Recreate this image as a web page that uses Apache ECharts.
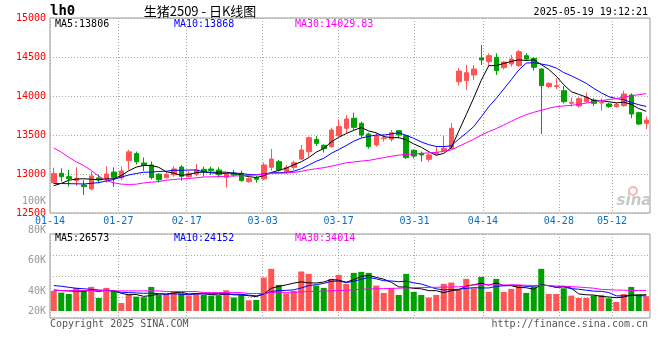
<!DOCTYPE html>
<html><head><meta charset="utf-8">
<script src="https://cdn.jsdelivr.net/npm/echarts@6/dist/echarts.min.js"></script>
<style>html,body{margin:0;padding:0;background:#fff}#c{width:660px;height:360px}</style>
</head><body><div id="c"></div>
<script>
const dates = ['01-14','01-15','01-16','01-17','01-20','01-21','01-22','01-23','01-24','01-27',
'02-05','02-06','02-07','02-10','02-11','02-12','02-13','02-14','02-17','02-18','02-19','02-20','02-21','02-24','02-25','02-26','02-27','02-28',
'03-03','03-04','03-05','03-06','03-07','03-10','03-11','03-12','03-13','03-14','03-17','03-18','03-19','03-20','03-21','03-24','03-25','03-26','03-27','03-28','03-31',
'04-01','04-02','04-03','04-07','04-08','04-09','04-10','04-11','04-14','04-15','04-16','04-17','04-18','04-21','04-22','04-23','04-24','04-25','04-28','04-29','04-30',
'05-06','05-07','05-08','05-09','05-12','05-13','05-14','05-15','05-16','05-19'];
const xTickLabels = ['01-14','01-27','02-17','03-03','03-17','03-31','04-14','04-28','05-12'];

const opens  = [12889,13009,12966,12915,12859,12808,12950,12925,13025,12950,
13171,13262,13142,13115,12998,12953,12990,13090,12966,12998,
13060,13064,13051,12957,13009,13009,12902,12953,12936,13086,
13158,13030,13086,13192,13286,13444,13368,13350,13491,13586,
13714,13650,13513,13372,13453,13445,13556,13492,13305,13265,
13188,13257,13300,13329,14184,14197,14269,14487,14440,14496,
14363,14410,14389,14517,14483,14346,14120,14120,14068,13906,
13872,13927,13949,13910,13898,13864,13876,14013,13786,13650];
const closes = [13008,12966,12940,12945,12838,12975,12925,13000,12958,13040,
13284,13156,13112,12955,12925,12996,13065,12970,13009,13052,
13030,13043,12990,13000,12987,12915,12940,12932,13116,13192,
13051,13086,13145,13308,13466,13393,13325,13564,13607,13705,
13598,13500,13351,13487,13462,13530,13500,13210,13230,13244,
13244,13274,13329,13586,14320,14299,14346,14462,14517,14325,
14436,14474,14568,14474,14368,14133,14162,14133,13927,13919,
13966,13983,13906,13915,13864,13893,14026,13769,13641,13692];
const lows   = [12872,12902,12840,12846,12731,12790,12880,12890,12835,12920,
13055,13122,13040,12930,12890,12945,12965,12915,12955,12970,
12966,12987,12957,12830,12966,12902,12889,12889,12923,13043,
13030,13000,13051,13180,13222,13359,13274,13338,13479,13522,
13564,13466,13325,13351,13415,13415,13457,13193,13200,13158,
13158,13244,13287,13316,14133,14077,14205,14398,14389,14270,
14342,14376,14376,14453,14325,13513,14098,14090,13906,13864,
13850,13915,13872,13812,13850,13850,13864,13714,13628,13573];
const highs  = [13081,13073,13051,13086,12923,13030,12990,13095,13085,13095,
13312,13288,13212,13160,13010,13030,13100,13115,13040,13130,
13094,13094,13086,13010,13051,13043,12957,12974,13145,13320,
13180,13116,13171,13372,13479,13487,13380,13594,13700,13757,
13786,13671,13530,13521,13513,13564,13564,13500,13317,13286,
13265,13350,13492,13650,14360,14398,14398,14654,14547,14547,
14449,14526,14590,14547,14496,14355,14175,14226,14128,13979,
13983,14043,13970,13970,13915,13915,14068,14034,13799,13735];

const ma5  = [12850,12880,12920,12935,12939,12933,12925,12937,12939,12980,
13041,13088,13110,13109,13086,13029,13011,12982,12993,13018,
13025,13021,13025,13023,13010,12987,12966,12955,12978,13019,
13046,13075,13118,13156,13211,13280,13327,13411,13471,13519,
13560,13595,13552,13528,13480,13466,13466,13438,13386,13343,
13286,13240,13264,13335,13550,13761,13976,14202,14389,14390,
14417,14443,14464,14455,14464,14403,14341,14254,14145,14055,
14021,13986,13940,13938,13927,13912,13921,13893,13839,13804];
const ma10 = [12878,12878,12876,12874,12872,12880,12890,12910,12930,12960,
12987,13006,13023,13024,13033,13035,13049,13046,13051,13052,
13027,13016,13004,13008,13014,13006,12994,12990,13001,13015,
13017,13021,13036,13067,13115,13163,13201,13265,13314,13365,
13420,13461,13482,13500,13499,13513,13530,13495,13457,13411,
13376,13353,13351,13361,13447,13524,13608,13733,13862,13970,
14089,14209,14333,14422,14427,14410,14392,14359,14300,14259,
14212,14163,14097,14041,13991,13967,13953,13917,13888,13866];
const ma30 = [13335,13280,13215,13155,13108,13045,12972,12916,12887,12870,
12866,12869,12886,12895,12903,12921,12929,12938,12942,12951,
12961,12964,12966,12971,12974,12978,12982,12988,12995,13009,
13010,13014,13021,13033,13054,13068,13081,13100,13122,13144,
13154,13166,13174,13192,13210,13227,13242,13250,13257,13264,
13271,13278,13290,13309,13354,13400,13447,13498,13544,13582,
13628,13675,13722,13761,13791,13816,13844,13863,13873,13880,
13893,13909,13927,13941,13955,13967,13984,14003,14017,14030];

// volume, thousands of lots
const volume = [33.9,31.1,28.8,39.0,34.5,40.7,22.0,39.0,34.5,13.5,
28.2,24.3,23.2,40.7,27.1,28.2,32.8,29.9,26.0,29.9,
27.1,26.0,26.0,35.0,22.6,27.1,18.1,18.6,56.5,71.2,
44.1,29.9,33.9,66.7,62.7,42.9,39.0,54.2,61.0,45.8,
64.4,66.1,64.4,42.9,30.5,38.4,27.1,62.7,32.2,27.1,
22.6,27.1,45.8,48.0,35.6,54.2,38.4,57.6,32.2,54.2,
32.2,37.3,42.4,30.5,41.2,71.2,28.8,28.8,38.4,26.0,
22.0,22.0,26.0,27.1,21.5,15.3,28.8,40.7,28.2,25.0];
const volMa5 = [35.5,34.5,33.8,33.2,33.5,34.8,33.0,35.0,34.1,29.9,
27.4,27.9,24.7,26.0,28.7,28.7,30.4,31.7,28.8,29.4,
29.1,27.8,27.0,28.8,27.3,27.3,25.8,24.3,28.6,38.3,
41.7,44.1,47.1,49.2,47.5,47.2,49.0,53.1,52.0,48.6,
52.9,58.3,60.3,56.7,53.7,48.5,40.7,40.3,38.2,37.5,
34.3,34.3,31.0,34.1,35.8,42.1,44.4,46.8,43.6,47.3,
42.9,42.7,39.7,39.3,36.7,44.5,42.8,40.1,41.7,38.6,
28.8,27.4,26.9,24.6,23.7,22.4,23.7,26.7,26.9,27.6];
const volMa10 = [42.9,41.8,40.0,38.4,37.5,36.5,35.5,34.5,33.5,31.7,
31.1,30.5,29.9,30.1,29.3,28.1,29.2,28.2,27.4,29.0,
28.9,29.1,29.4,28.8,28.4,28.2,26.8,25.6,28.7,32.8,
34.5,34.9,35.7,38.9,42.9,44.5,46.6,50.1,50.6,48.0,
50.1,53.7,56.7,54.3,51.1,50.7,49.5,50.3,47.5,45.6,
41.4,37.5,35.6,36.2,36.7,38.2,39.4,38.9,38.9,41.6,
42.5,43.6,43.2,41.5,42.0,43.7,42.8,39.9,40.5,37.7,
36.7,35.1,33.5,33.2,31.2,25.6,25.6,26.8,25.8,25.7];
const volMa30 = [34.5,34.5,34.5,34.5,34.5,34.5,34.5,34.5,34.0,34.0,
34.0,34.0,34.0,34.0,34.0,32.8,32.8,32.8,32.8,32.8,
31.1,31.1,31.1,31.1,31.1,31.1,29.5,29.5,29.5,31.2,
31.5,31.5,31.7,32.3,32.8,33.0,33.5,34.2,34.5,35.0,
35.8,36.5,37.2,37.5,37.8,38.2,38.5,39.0,39.3,39.5,
39.8,40.0,40.3,40.6,41.0,41.8,44.0,44.8,44.5,44.2,
44.0,44.0,44.0,43.5,43.0,43.5,42.8,42.2,41.8,41.2,
40.4,39.5,38.5,36.5,36.0,35.3,35.2,34.8,34.6,34.8];

const volTickLabels = ['80K','60K','40K','20K'];
const priceLegend = ['MA5:13806','MA10:13868','MA30:14029.83'];
const volLegend = ['MA5:26573','MA10:24152','MA30:34014'];

const UP = '#ff5555', DOWN = '#00a000';
const MONO = '"DejaVu Sans Mono", monospace';
const GRIDC = '#aaaaaa';
const dotted = {color: GRIDC, type: [1, 2], width: 1};

const candleData = dates.map((d, i) => [opens[i], closes[i], lows[i], highs[i]]);
const showTick = (idx, val) => xTickLabels.indexOf(val) >= 0;

function txt(text, x, y, fill, align, font) {
  return {type: 'text', silent: true, z: 100,
    style: {text, x, y, fill, font: font || ('10px ' + MONO),
      textAlign: align || 'left', textVerticalAlign: 'middle', align: align || 'left', verticalAlign: 'middle'}};
}
const legendX = [55, 174, 295];
const legendC = ['#000000', '#0000ff', '#ff00ff'];
const volLabelY = [230, 260, 291, 311];

const graphics = [
  txt('lh0', 50, 11, '#000', 'left', 'bold 14px ' + MONO),
  txt('生猪2509 - 日K线图', 200, 11, '#000', 'center', '13px "Noto Sans CJK SC"'),
  txt('2025-05-19 19:12:21', 648, 12, '#000', 'right'),
  txt('100K', 46, 201, '#999', 'right'),
  txt('Copyright 2025 SINA.COM', 50, 324, '#555', 'left'),
  txt('http://finance.sina.com.cn', 648, 324, '#555', 'right'),
  txt('sina', 634, 201, '#c8c8c8', 'center', 'italic bold 15px "DejaVu Sans"'),
  {type: 'circle', silent: true, z: 99, shape: {cx: 633, cy: 191, r: 4}, style: {fill: 'none', stroke: '#f2b8b8', lineWidth: 2}}
];
priceLegend.forEach((t, k) => graphics.push(txt(t, legendX[k], 24, legendC[k])));
volLegend.forEach((t, k) => graphics.push(txt(t, legendX[k], 238, legendC[k])));
volTickLabels.forEach((t, k) => graphics.push(txt(t, 46, volLabelY[k], '#999', 'right')));

const hiddenCat = (gi) => ({type: 'category', gridIndex: gi, data: dates, boundaryGap: true, show: false});
const tickCat = (gi, labels) => ({type: 'category', gridIndex: gi, position: 'bottom', data: dates, boundaryGap: false,
  axisLine: {show: false}, axisTick: {show: false},
  axisLabel: {show: labels, interval: showTick, color: '#0a6fc2', fontFamily: MONO, fontSize: 10, margin: 3},
  splitLine: {show: true, interval: showTick, lineStyle: dotted}});

const option = {
  animation: false,
  backgroundColor: '#fff',
  grid: [
    {left: 50, right: 10, top: 18, height: 195, show: true, borderColor: '#999', borderWidth: 1, backgroundColor: 'transparent'},
    {left: 50, right: 10, top: 234, height: 77},
    {left: 50, right: 10, top: 234, height: 84, show: true, borderColor: '#999', borderWidth: 1, backgroundColor: 'transparent'}
  ],
  xAxis: [hiddenCat(0), tickCat(0, true), hiddenCat(1), tickCat(2, false)],
  yAxis: [
    {type: 'value', gridIndex: 0, min: 12500, max: 15000, interval: 500,
     axisLine: {show: false}, axisTick: {show: false},
     axisLabel: {color: '#ff0000', fontFamily: MONO, fontSize: 10, margin: 4, formatter: (v) => String(v)},
     splitLine: {show: true, lineStyle: dotted}},
    {type: 'value', gridIndex: 1, min: 0, max: 130, show: false, splitLine: {show: false}},
    {type: 'value', gridIndex: 2, min: 0, max: 4, interval: 1,
     axisLine: {show: false}, axisTick: {show: false}, axisLabel: {show: false},
     splitLine: {show: true, lineStyle: dotted}}
  ],
  graphic: graphics,
  series: [
    {type: 'candlestick', xAxisIndex: 0, yAxisIndex: 0, data: candleData, barWidth: 5,
     itemStyle: {color: UP, color0: DOWN, borderColor: UP, borderColor0: DOWN, borderWidth: 1}},
    {type: 'line', xAxisIndex: 0, yAxisIndex: 0, data: ma5, showSymbol: false, lineStyle: {color: '#000', width: 1}},
    {type: 'line', xAxisIndex: 0, yAxisIndex: 0, data: ma10, showSymbol: false, lineStyle: {color: '#0000ff', width: 1}},
    {type: 'line', xAxisIndex: 0, yAxisIndex: 0, data: ma30, showSymbol: false, lineStyle: {color: '#ff00ff', width: 1}},
    {type: 'bar', xAxisIndex: 2, yAxisIndex: 1, data: volume, barWidth: 6,
     itemStyle: {color: (p) => closes[p.dataIndex] >= opens[p.dataIndex] ? UP : DOWN}},
    {type: 'line', xAxisIndex: 2, yAxisIndex: 1, data: volMa5, showSymbol: false, lineStyle: {color: '#000', width: 1}},
    {type: 'line', xAxisIndex: 2, yAxisIndex: 1, data: volMa10, showSymbol: false, lineStyle: {color: '#0000ff', width: 1}},
    {type: 'line', xAxisIndex: 2, yAxisIndex: 1, data: volMa30, showSymbol: false, lineStyle: {color: '#ff00ff', width: 1}}
  ]
};
echarts.init(document.getElementById('c'), null, {renderer: 'canvas'}).setOption(option);
</script>
</body></html>
